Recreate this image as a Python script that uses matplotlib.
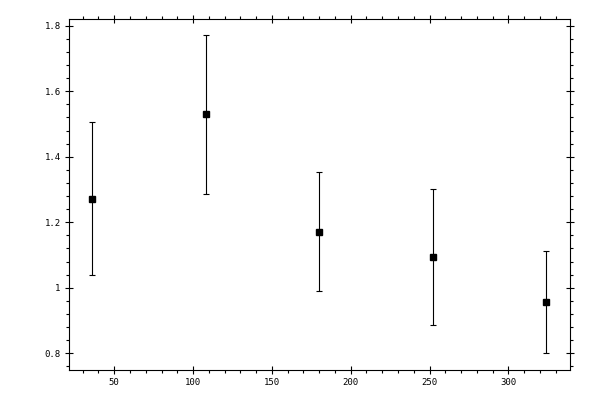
import matplotlib
matplotlib.use("Agg")
import matplotlib.pyplot as plt
from matplotlib.ticker import MultipleLocator, FuncFormatter

# data
x_vals = [36, 108, 180, 252, 324]
y_vals = [1.272, 1.530, 1.171, 1.095, 0.957]
y_err = [0.233, 0.243, 0.182, 0.208, 0.156]

plt.rcParams['font.family'] = 'DejaVu Sans Mono'

fig = plt.figure(figsize=(6, 4), dpi=100)
ax = fig.add_axes([0.115, 0.075, 0.835, 0.8775])

ax.errorbar(x_vals, y_vals, yerr=y_err, fmt='s', color='black',
            ms=5, elinewidth=0.8, capsize=2.5, capthick=0.8)

ax.set_xlim(21.3, 339.1)
ax.set_ylim(0.749, 1.8205)

ax.xaxis.set_major_locator(MultipleLocator(50))
ax.xaxis.set_minor_locator(MultipleLocator(10))
ax.yaxis.set_major_locator(MultipleLocator(0.2))
ax.yaxis.set_minor_locator(MultipleLocator(0.04))
ax.yaxis.set_major_formatter(FuncFormatter(lambda v, p: '%g' % round(v, 2)))

ax.tick_params(which='major', direction='inout', length=6, width=0.8,
               top=True, right=True, labelsize=6.5, pad=3)
ax.tick_params(which='minor', direction='out', length=2.5, width=0.8,
               top=True, right=True)
for s in ax.spines.values():
    s.set_linewidth(0.8)

fig.savefig('out.png', dpi=100)
